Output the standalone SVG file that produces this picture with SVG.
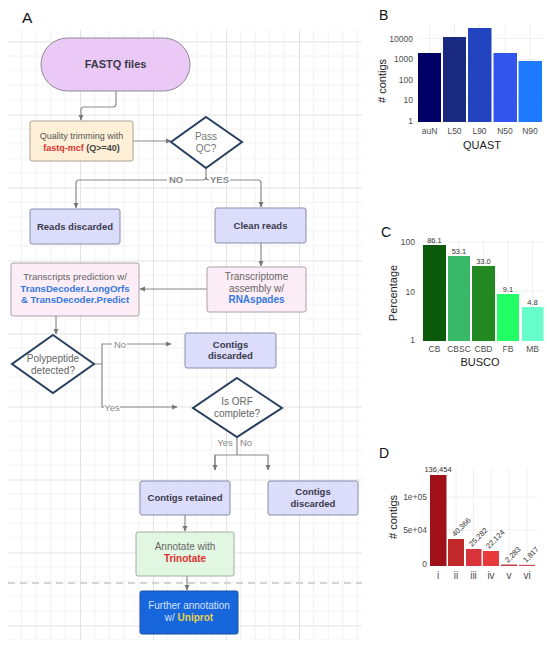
<svg xmlns="http://www.w3.org/2000/svg" width="550" height="648" viewBox="0 0 550 648">
<defs>
<pattern id="grid" patternUnits="userSpaceOnUse" x="7" y="41.5" width="73" height="73">
<path d="M14.6,0V73M29.2,0V73M43.8,0V73M58.4,0V73M0,14.6H73M0,29.2H73M0,43.8H73M0,58.4H73" stroke="#efefef" stroke-width="0.8" fill="none"/>
<path d="M0.5,0V73M0,0.5H73" stroke="#e2e2e2" stroke-width="1" fill="none"/>
</pattern>
<marker id="arr" markerUnits="userSpaceOnUse" markerWidth="6" markerHeight="6" refX="5" refY="3" orient="auto">
<path d="M0,0.5L5.5,3L0,5.5z" fill="#777"/>
</marker>
<style>
text{font-family:"Liberation Sans",Arial,sans-serif}
.con{fill:none;stroke:#8a8a8a;stroke-width:1.2}
.lav{fill:#dcdcfb;stroke:#8a8aaa;stroke-width:1}
.pink{fill:#fcedf6;stroke:#a9a0a8;stroke-width:1}
.dia{fill:#fff;stroke:#2a3f5f;stroke-width:2}
.bt{font-size:9.5px;font-weight:bold;fill:#3a3a4a;text-anchor:middle}
.rt{font-size:10px;fill:#666;text-anchor:middle}
.blue{font-weight:bold;fill:#3479e0}
.red{font-weight:bold;fill:#e03030}
.lbl{font-size:9.5px;fill:#888;text-anchor:middle}
.tick{font-size:8.5px;fill:#4d4d4d}
.title{font-size:11px;fill:#222;text-anchor:middle}
.panel{font-size:14px;fill:#111}
.gl{stroke:#ececec;stroke-width:0.8;fill:none}
.val{font-size:7.5px;fill:#333}
</style>
</defs>
<rect width="550" height="648" fill="#fff"/>
<rect x="8" y="30" width="354" height="610" fill="url(#grid)"/>
<path d="M8,583H362" stroke="#c8c8c8" stroke-width="1.5" stroke-dasharray="7,5" fill="none"/>
<text class="panel" x="22" y="23" style="font-size:15.5px">A</text>

<g id="connectors">
<path class="con" d="M116,91V104Q116,107 113,107H84Q81,107 81,110V120" marker-end="url(#arr)"/>
<path class="con" d="M133,141H171" marker-end="url(#arr)"/>
<path class="con" d="M206,168V177Q206,180 203,180H79Q76,180 76,183V208" marker-end="url(#arr)"/>
<path class="con" d="M206,177Q206,180 209,180H258Q261,180 261,183V207" marker-end="url(#arr)"/>
<path class="con" d="M261,243V266" marker-end="url(#arr)"/>
<path class="con" d="M207,289H140" marker-end="url(#arr)"/>
<path class="con" d="M56,316V334" marker-end="url(#arr)"/>
<path class="con" d="M94,364H102V344H171" marker-end="url(#arr)"/>
<path class="con" d="M102,364V407H177" marker-end="url(#arr)"/>
<path class="con" d="M237,437V455"/>
<path class="con" d="M215,470V455H268V470" marker-end="url(#arr)"/>
<path class="con" d="M215,455V470" marker-end="url(#arr)"/>
<path class="con" d="M185,515V531" marker-end="url(#arr)"/>
<path class="con" d="M187,576V590" marker-end="url(#arr)"/>
<rect x="167" y="174" width="18" height="11" fill="#fff"/>
<text class="lbl" x="176" y="183" style="font-weight:bold">NO</text>
<rect x="209" y="174" width="21" height="11" fill="#fff"/>
<text class="lbl" x="219.5" y="183" style="font-weight:bold">YES</text>
<rect x="112" y="339" width="15" height="10" fill="#fff"/>
<text class="lbl" x="120" y="347.5">No</text>
<rect x="104" y="402" width="16" height="10" fill="#fff"/>
<text class="lbl" x="112" y="410.5">Yes</text>
<text class="lbl" x="225" y="445.5">Yes</text>
<text class="lbl" x="246" y="445.5">No</text>
</g>

<g id="fastq">
<rect x="41" y="38" width="149" height="53" rx="26.5" fill="#ebc9f7" stroke="#8f8a95" stroke-width="1"/>
<text x="115.5" y="68" style="font-size:11px;font-weight:bold;fill:#3a3a4a" text-anchor="middle">FASTQ files</text>
</g>
<g id="quality">
<rect x="30" y="121" width="103" height="40" rx="2" fill="#fdf0d6" stroke="#a8a098" stroke-width="1"/>
<text x="81.5" y="139" style="font-size:9px;fill:#555" text-anchor="middle">Quality trimming with</text>
<text x="81.5" y="151" style="font-size:9px;font-weight:bold;fill:#444" text-anchor="middle"><tspan fill="#e03030">fastq-mcf</tspan> (Q&gt;=40)</text>
</g>
<g id="passqc">
<path class="dia" d="M206,117L242,142L206,168L171,142z"/>
<text class="rt" x="206" y="140" style="fill:#777">Pass</text>
<text class="rt" x="206" y="152" style="fill:#777">QC?</text>
</g>
<g id="reads-discarded">
<rect class="lav" x="30" y="209" width="90" height="35" rx="2"/>
<text class="bt" x="75" y="229.5">Reads discarded</text>
</g>
<g id="clean-reads">
<rect class="lav" x="215" y="208" width="91" height="35" rx="2"/>
<text class="bt" x="260.5" y="228.5">Clean reads</text>
</g>
<g id="transcriptome">
<rect class="pink" x="207" y="267" width="99" height="45" rx="2"/>
<text class="rt" x="256.5" y="280">Transcriptome</text>
<text class="rt" x="256.5" y="291.5">assembly w/</text>
<text class="rt blue" x="256.5" y="303">RNAspades</text>
</g>
<g id="transcripts">
<rect class="pink" x="11" y="263" width="128" height="53" rx="2"/>
<text class="rt" x="75" y="280" style="font-size:9.6px">Transcripts prediction w/</text>
<text class="rt blue" x="75" y="291.5" style="font-size:9.6px">TransDecoder.LongOrfs</text>
<text class="rt blue" x="75" y="303" style="font-size:9.6px">&amp; TransDecoder.Predict</text>
</g>
<g id="polypeptide">
<path class="dia" d="M53,335L94,364L53,393L12,364z"/>
<text class="rt" x="53" y="362">Polypeptide</text>
<text class="rt" x="53" y="374">detected?</text>
</g>
<g id="contigs-discarded-1">
<rect class="lav" x="185" y="333" width="91" height="35" rx="2"/>
<text class="bt" x="230.5" y="347.5">Contigs</text>
<text class="bt" x="230.5" y="359">discarded</text>
</g>
<g id="orf">
<path class="dia" d="M237,378L282,408L237,437L193,408z"/>
<text class="rt" x="237" y="405">Is ORF</text>
<text class="rt" x="237" y="417">complete?</text>
</g>
<g id="contigs-retained">
<rect class="lav" x="140" y="481" width="90" height="34" rx="2"/>
<text class="bt" x="185" y="501">Contigs retained</text>
</g>
<g id="contigs-discarded-2">
<rect class="lav" x="268" y="481" width="90" height="34" rx="2"/>
<text class="bt" x="313" y="495">Contigs</text>
<text class="bt" x="313" y="506.5">discarded</text>
</g>
<g id="annotate">
<rect x="136" y="532" width="98" height="44" rx="2" fill="#e2f7e2" stroke="#a0b0a0" stroke-width="1"/>
<text class="rt" x="185" y="550">Annotate with</text>
<text class="rt red" x="185" y="562">Trinotate</text>
</g>
<g id="further">
<rect x="140" y="591" width="98" height="43" rx="2" fill="#1766dc" stroke="#1a4fa0" stroke-width="1"/>
<text class="rt" x="189" y="609" style="fill:#d4e2ff">Further annotation</text>
<text class="rt" x="189" y="621" style="fill:#d4e2ff">w/ <tspan font-weight="bold" fill="#e6d24a">Uniprot</tspan></text>
</g>

<g id="panelB">
<text class="panel" x="379" y="20">B</text>
<path class="gl" d="M418,38.6H543M418,59.2H543M418,79.8H543M418,100.4H543M429.5,24V122M454.5,24V122M479.5,24V122M505,24V122M530,24V122"/>
<rect x="418" y="53" width="23" height="69" fill="#000066"/>
<rect x="443" y="37" width="23" height="85" fill="#1a2a80"/>
<rect x="468" y="28" width="23.5" height="94" fill="#2244c0"/>
<rect x="493.5" y="53" width="23.5" height="69" fill="#3355ee"/>
<rect x="518.5" y="61" width="23.5" height="61" fill="#1e7bff"/>
<g class="tick" text-anchor="end">
<text x="413" y="41.5">10000</text>
<text x="413" y="62">1000</text>
<text x="413" y="82.5">100</text>
<text x="413" y="103">10</text>
<text x="413" y="124">1</text>
</g>
<g class="tick" text-anchor="middle">
<text x="429.5" y="134">auN</text>
<text x="454.5" y="134">L50</text>
<text x="479.5" y="134">L90</text>
<text x="505" y="134">N50</text>
<text x="530" y="134">N90</text>
</g>
<text class="title" x="482" y="149">QUAST</text>
<text class="title" transform="translate(386,81) rotate(-90)">#  contigs</text>
</g>

<g id="panelC">
<text class="panel" x="381" y="237">C</text>
<path class="gl" d="M423,242H544M423,291H544M434.5,240V341M459,240V341M483.5,240V341M508,240V341M532.5,240V341"/>
<rect x="423" y="245" width="23" height="96" fill="#0a5a0a"/>
<rect x="448" y="256" width="22" height="85" fill="#3ab86a"/>
<rect x="472" y="266" width="23" height="75" fill="#228822"/>
<rect x="497" y="294" width="22" height="47" fill="#22ff66"/>
<rect x="522" y="307" width="21.5" height="34" fill="#66ffcc"/>
<g class="val" text-anchor="middle">
<text x="434.5" y="243">86.1</text>
<text x="459" y="254">53.1</text>
<text x="483.5" y="264">33.0</text>
<text x="508" y="292">9.1</text>
<text x="532.5" y="305">4.8</text>
</g>
<g class="tick" text-anchor="end">
<text x="415" y="245">100</text>
<text x="415" y="294.5">10</text>
<text x="415" y="343">1</text>
</g>
<g class="tick" text-anchor="middle">
<text x="434.5" y="352">CB</text>
<text x="459" y="352">CBSC</text>
<text x="483.5" y="352">CBD</text>
<text x="508" y="352">FB</text>
<text x="532.5" y="352">MB</text>
</g>
<text class="title" x="480" y="366">BUSCO</text>
<text class="title" transform="translate(397,293) rotate(-90)">Percentage</text>
</g>

<g id="panelD">
<text class="panel" x="379" y="458">D</text>
<path class="gl" d="M430,497H537M430,530H537M438,468V566M456,468V566M473.5,468V566M491,468V566M509,468V566M527,468V566"/>
<rect x="430" y="475" width="16.5" height="91" fill="#a01018"/>
<rect x="448" y="539" width="16" height="27" fill="#c0282a"/>
<rect x="466" y="549" width="15.5" height="17" fill="#d8333a"/>
<rect x="483" y="551" width="16" height="15" fill="#e83a3a"/>
<rect x="501" y="564.5" width="16" height="1.5" fill="#c04048"/>
<rect x="519" y="564.8" width="16" height="1.2" fill="#d05060"/>
<g class="val">
<text x="438" y="472" text-anchor="middle">136,454</text>
<text transform="translate(455,537) rotate(-45)">40,366</text>
<text transform="translate(472,547) rotate(-45)">25,282</text>
<text transform="translate(489,549) rotate(-45)">22,124</text>
<text transform="translate(508,563) rotate(-45)">2,283</text>
<text transform="translate(526,563) rotate(-45)">1,817</text>
</g>
<g class="tick" text-anchor="end">
<text x="427" y="500">1e+05</text>
<text x="427" y="533">5e+04</text>
<text x="427" y="567">0</text>
</g>
<g text-anchor="middle" style="font-size:10px;fill:#4d4d4d">
<text x="438" y="579">i</text>
<text x="456" y="579">ii</text>
<text x="473.5" y="579">iii</text>
<text x="491" y="579">iv</text>
<text x="509" y="579">v</text>
<text x="527" y="579">vi</text>
</g>
<text class="title" transform="translate(397,517) rotate(-90)">#  contigs</text>
</g>
</svg>
